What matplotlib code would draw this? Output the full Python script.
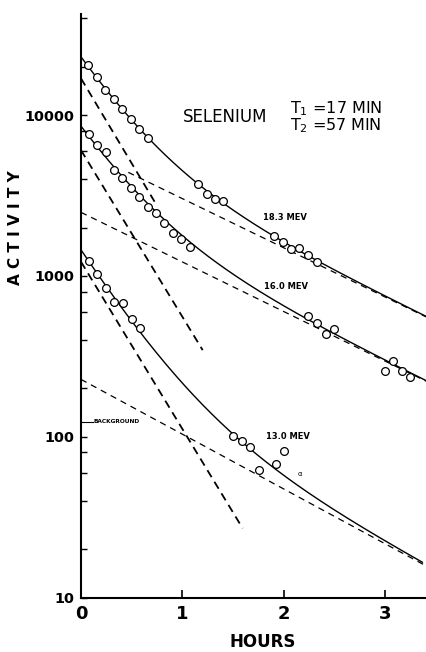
import numpy as np
import matplotlib
matplotlib.use("Agg")
import matplotlib.pyplot as plt
from matplotlib.ticker import FixedLocator, NullFormatter

# ---- measured data (hours, activity) ----
t_183 = [0.066, 0.155, 0.24, 0.322, 0.407, 0.49, 0.574, 0.657,
         1.156, 1.238, 1.32, 1.402, 1.90, 1.987, 2.066, 2.151, 2.239, 2.322]
a_183 = [20370, 17150, 14360, 12620, 10940, 9480, 8220, 7160,
         3725, 3215, 3020, 2921, 1770, 1632, 1476, 1484, 1349, 1220]

t_160 = [0.076, 0.158, 0.243, 0.322, 0.407, 0.49, 0.574, 0.657, 0.739,
         0.821, 0.903, 0.988, 1.071, 2.239, 2.328, 2.411, 2.493,
         2.995, 3.077, 3.160, 3.241]
a_160 = [7590, 6490, 5890, 4550, 4075, 3500, 3105, 2670, 2450,
         2133, 1840, 1703, 1506, 566, 508, 437, 466,
         258, 296, 258, 236]

t_130 = [0.079, 0.158, 0.243, 0.325, 0.414, 0.50, 0.578,
         1.50, 1.586, 1.665, 1.751, 1.918, 2.0]
a_130 = [1233, 1028, 838, 692, 682, 540, 474,
         101, 94, 86, 62, 68, 82]

# decay components: (start t, end t), (start value, end value)
fast_183_t = [0.0, 0.745];  fast_183_v = [16900, 2760]
slow_183_t = [0.466, 3.40]; slow_183_v = [4405, 557]
fast_160_t = [0.0, 1.199];  fast_160_v = [6050, 346]
slow_160_t = [0.0, 3.40];   slow_160_v = [2485, 222]
fast_130_t = [0.0, 1.593];  fast_130_v = [1225, 27]
slow_130_t = [0.0, 3.406];  slow_130_v = [227.5, 15.7]

curve_end = {"183": 3.41, "160": 3.41, "130": 3.37}

y_major = [10, 100, 1000, 10000]
y_major_labels = ["10", "100", "1000", "10000"]
y_minor = [20, 40, 60, 80, 200, 400, 600, 800, 2000, 4000, 6000, 8000, 20000, 40000]
x_ticks = [0, 1, 2, 3]
x_tick_labels = ["0", "1", "2", "3"]

background_level = 124


def comp(t, tt, vv):
    t = np.asarray(t, dtype=float)
    return vv[0] * (vv[1] / vv[0]) ** ((t - tt[0]) / (tt[1] - tt[0]))


fig = plt.figure(figsize=(4.27, 6.52), dpi=100)
ax = fig.add_axes([81 / 427, 54.3 / 652, 1 - 81 / 427, (597.7 - 14) / 652])
ax.set_yscale("log")
ax.set_xlim(0, 3.41)
ax.set_ylim(10, 42500)

solid_kw = dict(color="black", lw=1.0, solid_capstyle="butt", zorder=2)
fast_kw = dict(color="black", lw=1.3, dashes=(4.5, 3.0), zorder=1)
slow_kw = dict(color="black", lw=0.9, dashes=(5.0, 4.0), zorder=1)
mk_kw = dict(ls="none", marker="o", ms=5.6, mfc="white", mec="black", mew=0.9, zorder=3)

sets = [
    ("183", fast_183_t, fast_183_v, slow_183_t, slow_183_v, t_183, a_183),
    ("160", fast_160_t, fast_160_v, slow_160_t, slow_160_v, t_160, a_160),
    ("130", fast_130_t, fast_130_v, slow_130_t, slow_130_v, t_130, a_130),
]
for key, ft, fv, st, sv, td, ad in sets:
    tg = np.linspace(0, curve_end[key], 300)
    ax.plot(tg, comp(tg, ft, fv) + comp(tg, st, sv), **solid_kw)
    ax.plot(ft, fv, **fast_kw)
    ax.plot(st, sv, **slow_kw)
    ax.plot(td, ad, **mk_kw)

# background marker
ax.plot([0, 0.115], [background_level, background_level], color="black", lw=0.8)
ax.text(0.12, background_level, "BACKGROUND", fontsize=4.2, fontweight="bold",
        va="center", ha="left")

# labels
ax.text(1.793, 2312, "18.3 MEV", fontsize=6, fontweight="bold", va="center", ha="left")
ax.text(1.803, 865, "16.0 MEV", fontsize=6, fontweight="bold", va="center", ha="left")
ax.text(1.82, 100, "13.0 MEV", fontsize=6, fontweight="bold", va="center", ha="left")
ax.text(2.158, 58.7, "α", fontsize=5, va="center", ha="center")
ax.text(1.005, 9750, "SELENIUM", fontsize=12, va="center", ha="left")
ax.text(2.059, 11020, r"T$_\mathregular{1}$ =17 MIN", fontsize=11.5, va="center", ha="left")
ax.text(2.059, 8550, r"T$_\mathregular{2}$ =57 MIN", fontsize=11.5, va="center", ha="left")

# axes styling
for s in ("top", "right"):
    ax.spines[s].set_visible(False)
for s in ("left", "bottom"):
    ax.spines[s].set_linewidth(1.5)

ax.yaxis.set_major_locator(FixedLocator(y_major))
ax.set_yticklabels(y_major_labels)
ax.yaxis.set_minor_locator(FixedLocator(y_minor))
ax.yaxis.set_minor_formatter(NullFormatter())
ax.set_xticks(x_ticks)
ax.set_xticklabels(x_tick_labels)

ax.tick_params(axis="y", which="both", direction="in", length=4.3, width=1.0,
               labelsize=10.4, pad=5)
ax.tick_params(axis="x", which="both", direction="in", length=5.8, width=1.2,
               labelsize=13, pad=5)
for lab in ax.get_yticklabels() + ax.get_xticklabels():
    lab.set_fontweight("bold")

fig.text(263 / 427, 1 - 642 / 652, "HOURS", fontsize=12, fontweight="bold",
         ha="center", va="center")
fig.text(16 / 427, 1 - 228 / 652, "A C T I V I T Y", fontsize=11, fontweight="bold",
         rotation=90, ha="center", va="center")

fig.savefig("out.png", dpi=100)
